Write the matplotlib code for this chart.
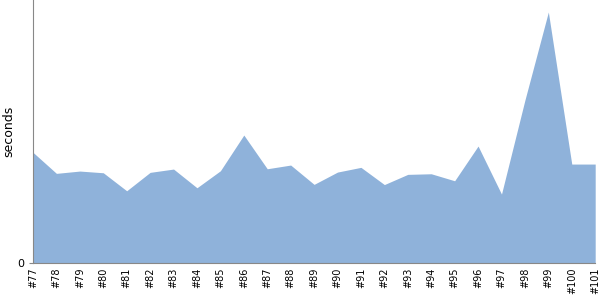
import matplotlib
matplotlib.use("Agg")
import matplotlib.pyplot as plt

builds = ["#77", "#78", "#79", "#80", "#81", "#82", "#83", "#84", "#85", "#86",
          "#87", "#88", "#89", "#90", "#91", "#92", "#93", "#94", "#95", "#96",
          "#97", "#98", "#99", "#100", "#101"]
seconds = [1.107, 0.897, 0.92, 0.903, 0.723, 0.907, 0.94, 0.753, 0.923, 1.28,
           0.943, 0.98, 0.787, 0.91, 0.957, 0.785, 0.887, 0.893, 0.823, 1.17,
           0.69, 1.63, 2.51, 0.99, 0.99]

fig = plt.figure(figsize=(6, 3), dpi=100)
ax = fig.add_axes([0.055, 0.123, 0.937, 0.877])

x = list(range(len(builds)))
ax.fill_between(x, 0, seconds, color="#8fb2da", linewidth=0)
ax.set_xlim(0, len(builds) - 1)
ax.set_ylim(0, 2.63)

ax.set_xticks(x)
ax.set_xticklabels(builds, rotation=90, fontsize=7)
ax.tick_params(axis="x", length=0, pad=3)
ax.set_yticks([0])
ax.tick_params(axis="y", length=3, labelsize=8, color="#888888")
ax.set_ylabel("seconds", fontsize=9, labelpad=1)

for s in ["top", "right"]:
    ax.spines[s].set_visible(False)
ax.spines["left"].set_color("#888888")
ax.spines["bottom"].set_color("#888888")

fig.savefig("out.png")
